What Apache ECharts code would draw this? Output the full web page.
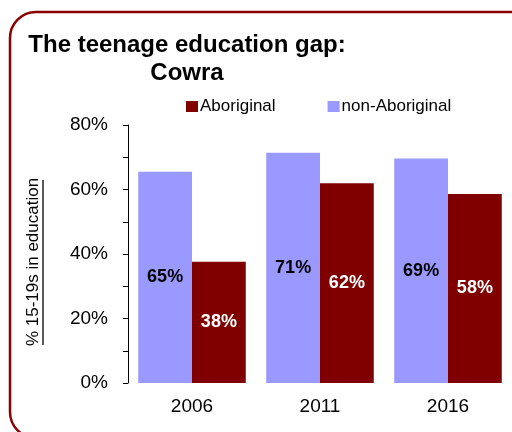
<!DOCTYPE html>
<html><head><meta charset="utf-8">
<script src="https://cdn.jsdelivr.net/npm/echarts@6/dist/echarts.min.js"></script>
<style>html,body{margin:0;padding:0;background:#fff}#c{width:512px;height:432px}</style>
</head><body><div id="c"></div>
<script>
const years = ["2006", "2011", "2016"];
const nonAboriginal = [65.5, 71.4, 69.6];
const aboriginal = [37.6, 61.9, 58.6];
const nonAboriginalLabels = ["65%", "71%", "69%"];
const aboriginalLabels = ["38%", "62%", "58%"];
const yTicks = [0, 20, 40, 60, 80];

const FONT = "Liberation Sans";
const chart = echarts.init(document.getElementById('c'));
chart.setOption({
  animation: false,
  textStyle: {fontFamily: FONT},
  title: {
    text: "The teenage education gap:\nCowra",
    left: 187, top: 31, textAlign: 'center', padding: 0,
    textStyle: {fontSize: 24, fontWeight: 'bold', color: '#000', fontFamily: FONT, lineHeight: 28}
  },
  legend: {
    data: ["Aboriginal", "non-Aboriginal"],
    left: 186, top: 98, itemWidth: 12, itemHeight: 11, itemGap: 52, padding: 0,
    icon: 'rect',
    textStyle: {fontSize: 17, color: '#000', fontFamily: FONT, padding: [0, 0, 0, -3]}
  },
  grid: {left: 128, right: 0, top: 125, bottom: 49, containLabel: false},
  xAxis: {
    type: 'category', data: years,
    axisLine: {show: false}, axisTick: {show: false},
    axisLabel: {fontSize: 19, color: '#000', margin: 14, fontFamily: FONT}
  },
  yAxis: {
    type: 'value', min: 0, max: 80, interval: 20,
    axisLine: {show: true, lineStyle: {color: '#000', width: 1}},
    axisTick: {show: true, length: 5, lineStyle: {color: '#000'}},
    minorTick: {show: true, splitNumber: 2, length: 5, lineStyle: {color: '#000'}},
    splitLine: {show: false},
    axisLabel: {fontSize: 19, color: '#000', margin: 20, fontFamily: FONT,
      formatter: v => yTicks.includes(v) ? v + '%' : ''}
  },
  series: [
    {
      name: "non-Aboriginal", type: 'bar', data: nonAboriginal,
      itemStyle: {color: '#9999FF'}, barGap: '0%', barCategoryGap: '16%',
      label: {show: true, position: 'inside', fontSize: 18, fontWeight: 'bold', color: '#000', fontFamily: FONT,
        formatter: p => nonAboriginalLabels[p.dataIndex]}
    },
    {
      name: "Aboriginal", type: 'bar', data: aboriginal,
      itemStyle: {color: '#800000'}, barGap: '0%', barCategoryGap: '16%',
      label: {show: true, position: 'inside', fontSize: 18, fontWeight: 'bold', color: '#fff', fontFamily: FONT,
        formatter: p => aboriginalLabels[p.dataIndex]}
    }
  ],
  graphic: [
    {type: 'rect', shape: {x: 10, y: 12, width: 540, height: 426, r: 26},
      style: {fill: 'none', stroke: '#8B0000', lineWidth: 2.5}, z: 100},
    {type: 'text', x: 33, y: 262, rotation: Math.PI / 2, originX: 0, originY: 0,
      style: {text: "% 15-19s in education", fontSize: 17, fill: '#000', fontFamily: FONT,
        align: 'center', verticalAlign: 'middle'}},
    {type: 'line', shape: {x1: 43, y1: 180, x2: 43, y2: 345},
      style: {stroke: '#000', lineWidth: 1.3}}
  ]
});
</script></body></html>
